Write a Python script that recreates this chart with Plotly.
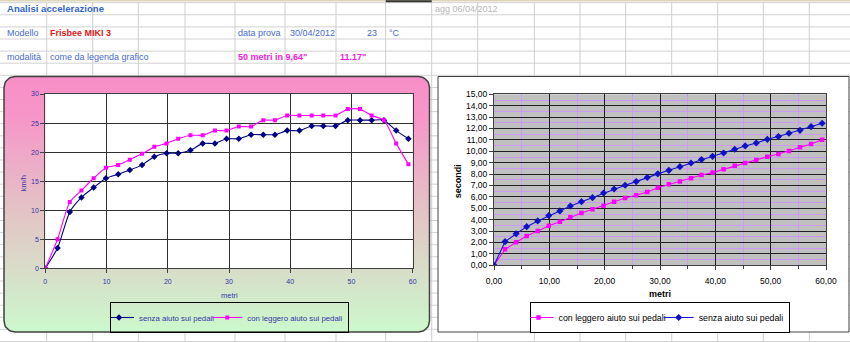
import numpy as np
import plotly.graph_objects as go

W, H = 850, 342
FONT = "Liberation Sans, Arial, sans-serif"

# ---------------- data ----------------
metri = [0, 2.0, 4.0, 5.9, 7.9, 9.9, 11.9, 13.8, 15.8, 17.8, 19.8, 21.7, 23.7, 25.7, 27.7,
         29.6, 31.6, 33.6, 35.6, 37.5, 39.5, 41.5, 43.5, 45.4, 47.4, 49.4, 51.4, 53.3,
         55.3, 57.3, 59.3]

# velocity (km/h)
kmh_senza = [0, 3.5, 9.7, 12.2, 13.9, 15.5, 16.2, 16.9, 17.8, 19.2, 19.8, 19.8, 20.3, 21.5,
             21.5, 22.3, 22.3, 23.0, 23.0, 23.0, 23.7, 23.7, 24.5, 24.5, 24.5, 25.5, 25.5,
             25.5, 25.5, 23.7, 22.3]
kmh_con = [0, 5.0, 11.4, 13.4, 15.5, 17.3, 17.8, 18.7, 19.7, 20.9, 21.5, 22.3, 22.9, 22.9,
           23.7, 23.7, 24.4, 24.4, 25.5, 25.5, 26.3, 26.3, 26.3, 26.3, 26.3, 27.4, 27.4,
           26.3, 25.5, 21.5, 17.9]

# time (seconds)
sec_senza = [0, 2.07, 2.77, 3.39, 3.89, 4.36, 4.77, 5.20, 5.58, 5.93, 6.34, 6.69, 7.02, 7.34,
             7.70, 8.02, 8.33, 8.65, 8.97, 9.27, 9.56, 9.85, 10.18, 10.47, 10.73, 11.05,
             11.29, 11.58, 11.84, 12.17, 12.46]
sec_con = [0, 1.40, 2.02, 2.57, 3.01, 3.47, 3.82, 4.21, 4.58, 4.91, 5.23, 5.58, 5.90, 6.14,
           6.43, 6.81, 7.10, 7.34, 7.63, 7.92, 8.13, 8.42, 8.74, 8.97, 9.24, 9.53, 9.76,
           10.03, 10.35, 10.64, 11.02]

name_senza = "senza aiuto sui pedali"
name_con = "con leggero aiuto sui pedali"

# ---------------- layout geometry (pixels) ----------------
LX = (45.3, 412.7); LY = (94.0, 268.3)      # left plot area
RX = (494.0, 826.0); RY = (94.3, 265.3)     # right plot area
LBOX = (4.0, 76.5, 429.5, 332.0)            # left chart frame
RBOX = (438.0, 76.5, 849.0, 332.0)          # right chart frame

def dom_x(a, b):
    return [a / W, b / W]

def dom_y(top, bot):
    return [1 - bot / H, 1 - top / H]

def rrect(x0, y0, x1, y1, r):
    xs, ys = [], []
    for cx, cy, a0, a1 in [(x1 - r, y0 + r, -90, 0), (x1 - r, y1 - r, 0, 90),
                           (x0 + r, y1 - r, 90, 180), (x0 + r, y0 + r, 180, 270)]:
        t = np.radians(np.linspace(a0, a1, 12))
        xs += list(cx + r * np.cos(t)); ys += list(cy + r * np.sin(t))
    xs.append(xs[0]); ys.append(ys[0])
    return xs, ys

def rect(x0, y0, x1, y1):
    return [x0, x1, x1, x0, x0], [y0, y0, y1, y1, y0]

fig = go.Figure()

# ---------------- background elements (pixel axis) ----------------
bx, by = rrect(*LBOX, 11)
fig.add_trace(go.Scatter(x=bx, y=by, mode="lines", fill="toself",
                         line=dict(color="#404040", width=1.5),
                         fillgradient=dict(type="vertical",
                                           colorscale=[[0, "#f78fc6"], [0.15, "#f795c8"],
                                                       [0.55, "#e2c6c6"], [1, "#ccf8cc"]],
                                           start=LBOX[1], stop=LBOX[3]),
                         hoverinfo="skip", showlegend=False, xaxis="x", yaxis="y"))
px_, py_ = rect(LX[0], LY[0], LX[1], LY[1])
fig.add_trace(go.Scatter(x=px_, y=py_, mode="lines", fill="toself", fillcolor="white",
                         line=dict(width=0), hoverinfo="skip", showlegend=False,
                         xaxis="x", yaxis="y"))
px_, py_ = rect(*RBOX)
fig.add_trace(go.Scatter(x=px_, y=py_, mode="lines", fill="toself", fillcolor="white",
                         line=dict(color="#404040", width=1), hoverinfo="skip",
                         showlegend=False, xaxis="x", yaxis="y"))
px_, py_ = rect(RX[0], RY[0], RX[1], RY[1])
fig.add_trace(go.Scatter(x=px_, y=py_, mode="lines", fill="toself", fillcolor="#c0c0c0",
                         line=dict(width=0), hoverinfo="skip", showlegend=False,
                         xaxis="x", yaxis="y"))

# ---------------- left chart: velocity ----------------
fig.add_trace(go.Scatter(x=metri, y=kmh_senza, name=name_senza, mode="lines+markers",
                         line=dict(color="#000080", width=1.1, shape="spline", smoothing=0.6),
                         marker=dict(symbol="diamond", size=5, color="#000080"),
                         xaxis="x2", yaxis="y2", legend="legend"))
fig.add_trace(go.Scatter(x=metri, y=kmh_con, name=name_con, mode="lines+markers",
                         line=dict(color="#ff00ff", width=1.1, shape="spline", smoothing=0.6),
                         marker=dict(symbol="square", size=4, color="#ff00ff"),
                         xaxis="x2", yaxis="y2", legend="legend"))

# ---------------- right chart: time ----------------
fig.add_trace(go.Scatter(x=metri, y=sec_con, name=name_con, mode="lines+markers",
                         line=dict(color="#ff00ff", width=1.1),
                         marker=dict(symbol="square", size=4.5, color="#ff00ff"),
                         xaxis="x3", yaxis="y3", legend="legend2"))
fig.add_trace(go.Scatter(x=metri, y=sec_senza, name=name_senza, mode="lines+markers",
                         line=dict(color="#1515d8", width=1.1),
                         marker=dict(symbol="diamond", size=5.5, color="#1010c8"),
                         xaxis="x3", yaxis="y3", legend="legend2"))

# ---------------- spreadsheet grid ----------------
shapes = []
col_lines = [46.7, 92.7, 138.3, 185, 235, 285, 336, 385.7, 431.7, 477.7, 534.3, 580,
             625.7, 671.7, 717.7, 763.3, 809.3]
row_lines = [2.7 + 12.1 * i for i in range(29)]
for cx in col_lines:
    shapes.append(dict(type="line", xref="x", yref="y", x0=cx, x1=cx, y0=2.7, y1=H,
                       line=dict(color="#cfcfcf", width=1), layer="below"))
for ry in row_lines:
    shapes.append(dict(type="line", xref="x", yref="y", x0=0, x1=W, y0=ry, y1=ry,
                       line=dict(color="#d2d2d2", width=1), layer="below"))
shapes.append(dict(type="rect", xref="x", yref="y", x0=0, x1=W, y0=0, y1=1.6,
                   fillcolor="#ddd6b8", line=dict(width=0), layer="below"))
shapes.append(dict(type="line", xref="x", yref="y", x0=385.7, x1=431.7, y0=1.2, y1=1.2,
                   line=dict(color="#333333", width=2), layer="below"))

# ---------------- texts ----------------
BLUE = "#4a6bd0"
ann = []

def cell(text, x, y, color=BLUE, size=9, bold=False, anchor="left"):
    ann.append(dict(text=text, xref="paper", yref="paper", x=x / W, y=1 - y / H,
                    xanchor=anchor, yanchor="middle", showarrow=False,
                    font=dict(family=FONT, size=size, color=color,
                              weight="bold" if bold else "normal")))

cell("Analisi accelerazione", 5, 8.5, color="#3366cc", size=9.6, bold=True)
cell("agg 06/04/2012", 432.5, 8.5, color="#b8b8b8")
cell("Modello", 5, 32.5)
cell("Frisbee MIKI 3", 48, 32.5, color="#dd2020", bold=True)
cell("data prova", 235.7, 32.5)
cell("30/04/2012", 287.7, 32.5)
cell("23", 378.7, 32.5, anchor="right")
cell("°C", 386.7, 32.5)
cell("modalità", 5, 56.8)
cell("come da legenda grafico", 48, 56.8)
cell("50 metri in 9,64\"", 235.7, 56.8, color="#ee22dd", bold=True)
cell("11.17\"", 338, 56.8, color="#ee22dd", bold=True)

LC = "#3535a8"
ann.append(dict(text="km/h", xref="paper", yref="paper", x=23.3 / W, y=1 - 183 / H,
                textangle=-90, showarrow=False, xanchor="center", yanchor="middle",
                font=dict(family=FONT, size=7.5, color=LC)))
ann.append(dict(text="metri", xref="paper", yref="paper", x=229.7 / W, y=1 - 295 / H,
                showarrow=False, xanchor="center", yanchor="middle",
                font=dict(family=FONT, size=7.5, color=LC)))
ann.append(dict(text="secondi", xref="paper", yref="paper", x=457.5 / W, y=1 - 181.7 / H,
                textangle=-90, showarrow=False, xanchor="center", yanchor="middle",
                font=dict(family=FONT, size=9, color="black", weight="bold")))
ann.append(dict(text="metri", xref="paper", yref="paper", x=659.8 / W, y=1 - 294.3 / H,
                showarrow=False, xanchor="center", yanchor="middle",
                font=dict(family=FONT, size=9, color="black", weight="bold")))

# ---------------- layout ----------------
fig.update_layout(
    width=W, height=H, margin=dict(l=0, r=0, t=0, b=0),
    paper_bgcolor="white", plot_bgcolor="rgba(0,0,0,0)",
    separators=",.",
    font=dict(family=FONT),
    shapes=shapes, annotations=ann,
    xaxis=dict(domain=[0, 1], range=[0, W], visible=False, fixedrange=True),
    yaxis=dict(domain=[0, 1], range=[H, 0], visible=False, fixedrange=True),
    xaxis2=dict(domain=dom_x(*LX), anchor="y2", range=[0, 60], dtick=10, tick0=0,
                showgrid=True, gridcolor="#303030", gridwidth=1, zeroline=False,
                showline=True, mirror=True, linecolor="#404040", linewidth=1,
                ticks="outside", ticklen=4, tickcolor="#404040", ticklabelstandoff=2,
                tickfont=dict(size=7, color=LC), fixedrange=True, automargin=False),
    yaxis2=dict(domain=dom_y(*LY), anchor="x2", range=[0, 30], dtick=5, tick0=0,
                showgrid=True, gridcolor="#303030", gridwidth=1, zeroline=False,
                showline=True, mirror=True, linecolor="#404040", linewidth=1,
                ticks="outside", ticklen=4, tickcolor="#404040",
                tickfont=dict(size=7, color=LC), fixedrange=True, automargin=False),
    xaxis3=dict(domain=dom_x(*RX), anchor="y3", range=[0, 60], dtick=10, tick0=0,
                tickformat=".2f", showgrid=True, gridcolor="#202020", gridwidth=1,
                minor=dict(dtick=5, showgrid=True, gridcolor="#cc99ff", gridwidth=1,
                           ticks="outside", ticklen=3, tickcolor="#404040"),
                zeroline=False, showline=True, mirror=True, linecolor="#404040",
                linewidth=1, ticks="outside", ticklen=4, tickcolor="#404040",
                ticklabelstandoff=3, tickfont=dict(size=8.5, color="black"),
                fixedrange=True, automargin=False),
    yaxis3=dict(domain=dom_y(*RY), anchor="x3", range=[0, 15], dtick=1, tick0=0,
                tickformat=".2f", showgrid=True, gridcolor="#202020", gridwidth=1,
                minor=dict(dtick=0.5, showgrid=True, gridcolor="#cc99ff", gridwidth=1),
                zeroline=False, showline=True, mirror=True, linecolor="#404040",
                linewidth=1, ticks="outside", ticklen=4, tickcolor="#404040",
                tickfont=dict(size=8.5, color="black"), fixedrange=True,
                automargin=False),
    legend=dict(orientation="h", x=229.5 / W, y=1 - 317.5 / H, xanchor="center",
                yanchor="middle", bgcolor="rgba(0,0,0,0)", bordercolor="#000000",
                borderwidth=1, font=dict(size=7.8, color=LC), itemwidth=30,
                indentation=-12, tracegroupgap=0),
    legend2=dict(orientation="h", x=659.5 / W, y=1 - 317.5 / H, xanchor="center",
                 yanchor="middle", bgcolor="white", bordercolor="#000000",
                 borderwidth=1, font=dict(size=8.8, color="black"), itemwidth=30,
                 indentation=-12, tracegroupgap=0),
)

fig.write_html("out.html")
